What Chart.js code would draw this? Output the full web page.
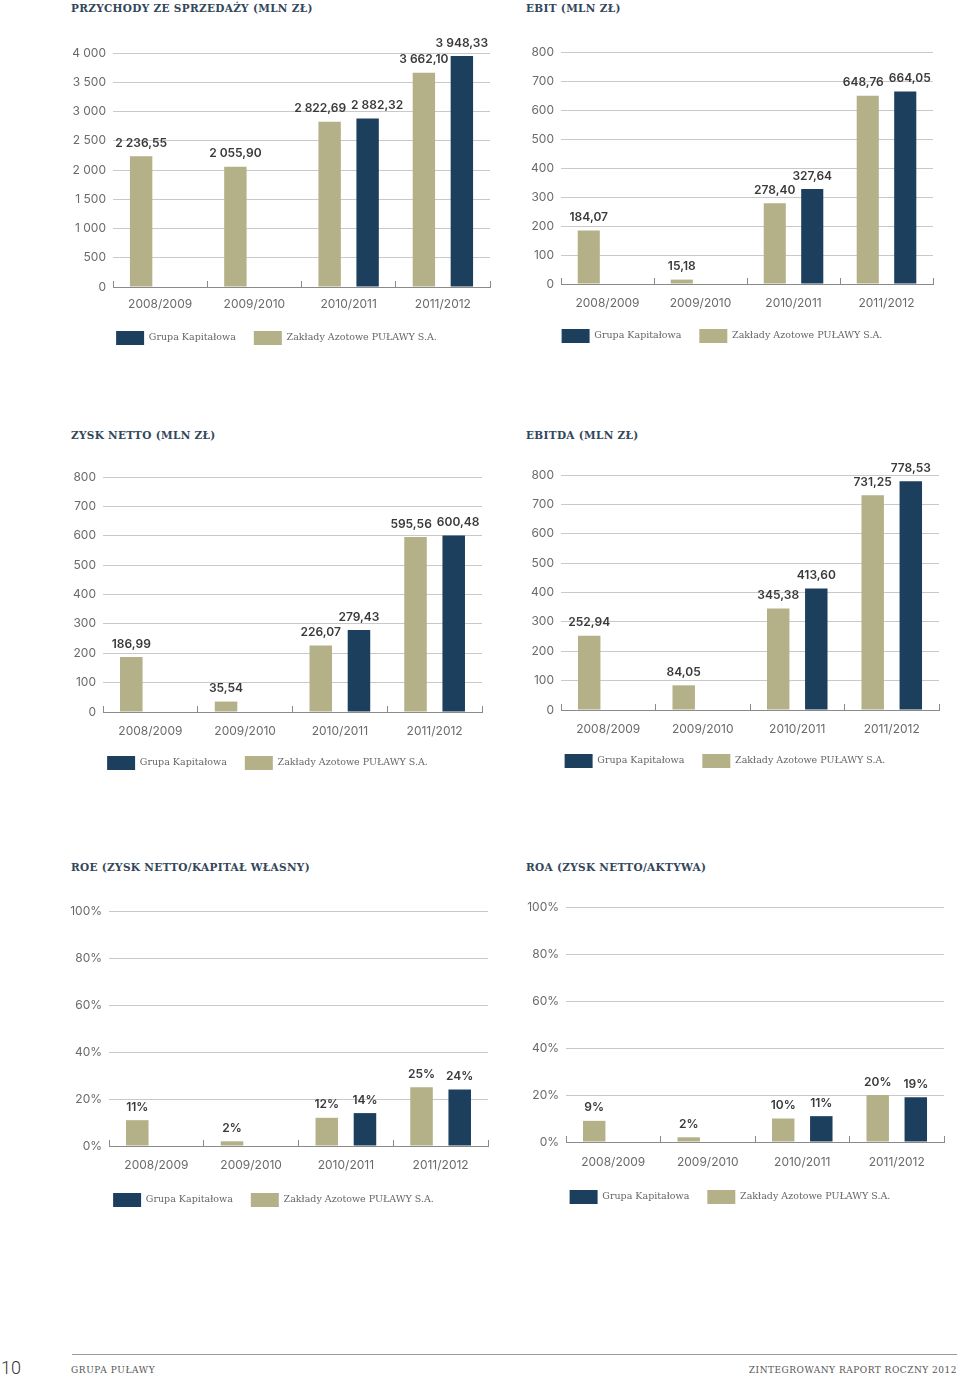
<!DOCTYPE html>
<html><head><meta charset="utf-8">
<script src="https://cdn.jsdelivr.net/npm/chart.js@4.4.1/dist/chart.umd.min.js"></script>
<style>
html,body{margin:0;padding:0;background:#fff;}
body{width:960px;height:1377px;position:relative;overflow:hidden;}
.t{position:absolute;font:bold 10.5px "DejaVu Serif";letter-spacing:0.32px;color:#33475b;white-space:nowrap;line-height:12px;}
canvas{position:absolute;}
.f{position:absolute;white-space:nowrap;}
</style></head><body>
<div class="f" style="left:72px;top:1354px;width:885px;height:1px;background:#9a9a9a"></div>
<div class="f" style="left:1px;top:1358px;font:300 18px Roboto;color:#333;line-height:20px">10</div>
<div class="f" style="left:71px;top:1364px;font:9px 'DejaVu Serif';letter-spacing:0.6px;color:#555;line-height:12px">GRUPA PUŁAWY</div>
<div class="f" style="right:3px;top:1364px;font:9px 'DejaVu Serif';letter-spacing:0.5px;color:#555;line-height:12px">ZINTEGROWANY RAPORT ROCZNY 2012</div>
<script>
// ---- data ----
const categories = ['2008/2009', '2009/2010', '2010/2011', '2011/2012'];
const seriesNames = ['Zakłady Azotowe PUŁAWY S.A.', 'Grupa Kapitałowa'];

const przychodyZaklady = [2236.55, 2055.90, 2822.69, 3662.10];
const przychodyGrupa   = [null, null, 2882.32, 3948.33];

const ebitZaklady = [184.07, 15.18, 278.40, 648.76];
const ebitGrupa   = [null, null, 327.64, 664.05];

const zyskZaklady = [186.99, 35.54, 226.07, 595.56];
const zyskGrupa   = [null, null, 279.43, 600.48];

const ebitdaZaklady = [252.94, 84.05, 345.38, 731.25];
const ebitdaGrupa   = [null, null, 413.60, 778.53];

const roeZaklady = [11, 2, 12, 25];
const roeGrupa   = [null, null, 14, 24];

const roaZaklady = [9, 2, 10, 20];
const roaGrupa   = [null, null, 11, 19];

const titles = ['PRZYCHODY ZE SPRZEDAŻY (MLN ZŁ)', 'EBIT (MLN ZŁ)', 'ZYSK NETTO (MLN ZŁ)',
                'EBITDA (MLN ZŁ)', 'ROE (ZYSK NETTO/KAPITAŁ WŁASNY)', 'ROA (ZYSK NETTO/AKTYWA)'];

// ---- styles / layout ----
const TAN = '#b4b188', NAVY = '#1d3f5e';
Chart.defaults.font.family = 'Inter';

function fmtPL(v, d) {
  const s = v.toFixed(d);
  const parts = s.split('.');
  const ip = parts[0].replace(/\B(?=(\d{3})+(?!\d))/g, ' ');
  return parts[1] ? ip + ',' + parts[1] : ip;
}

const valueLabels = {
  id: 'valueLabels',
  afterDatasetsDraw(chart, args, o) {
    const ctx = chart.ctx;
    ctx.save();
    ctx.font = '600 12px Inter';
    ctx.fillStyle = '#3a3a3a';
    ctx.textAlign = 'center';
    ctx.textBaseline = 'middle';
    const n = chart.data.labels.length;
    for (let i = 0; i < n; i++) {
      const items = [];
      chart.data.datasets.forEach((ds, di) => {
        const v = ds.data[i];
        if (v == null) return;
        const el = chart.getDatasetMeta(di).data[i];
        const txt = o.pct ? v + '%' : fmtPL(v, 2);
        items.push({x: el.x, y: el.y - 13, w: ctx.measureText(txt).width, txt});
      });
      if (items.length === 2) {
        const a = items[0], b = items[1];
        const ov = (a.x + a.w / 2 + 5) - (b.x - b.w / 2);
        if (ov > 0 && Math.abs(a.y - b.y) < 13) { a.x -= ov / 2; b.x += ov / 2; }
      }
      items.forEach(it => ctx.fillText(it.txt, it.x, it.y));
    }
    ctx.restore();
  }
};

function makeChart(g, title, tan, navy, yMax, yStep, pct) {
  const AW = 50, PT = 20, PR = 10, LP = 18;
  const XH = g.leg - g.plotB - (LP + 7);
  const left = g.plotL - AW, top = g.plotT - PT;
  const width = g.plotR - g.plotL + AW + PR;
  const height = (g.plotB - top) + XH + (LP * 2 + 14) + 1 - 8;
  const cv = document.createElement('canvas');
  cv.width = width; cv.height = height;
  cv.style.left = left + 'px'; cv.style.top = top + 'px';
  cv.style.width = width + 'px'; cv.style.height = height + 'px';
  document.body.appendChild(cv);
  const t = document.createElement('div');
  t.className = 't'; t.textContent = title;
  t.style.left = g.titleX + 'px'; t.style.top = (g.titleY - 6) + 'px';
  document.body.appendChild(t);
  const barOpts = {categoryPercentage: 0.806, barPercentage: 0.59};
  new Chart(cv, {
    type: 'bar',
    data: {
      labels: categories,
      datasets: [
        Object.assign({label: seriesNames[0], data: tan, backgroundColor: TAN}, barOpts),
        Object.assign({label: seriesNames[1], data: navy, backgroundColor: NAVY}, barOpts)
      ]
    },
    options: {
      responsive: false, animation: false, devicePixelRatio: 1,
      layout: {padding: {top: PT, right: PR, left: 0, bottom: 0}},
      plugins: {
        legend: {position: 'bottom', reverse: true,
          labels: {boxWidth: 28, boxHeight: 14, padding: LP, color: '#666',
                   font: {family: 'DejaVu Serif', size: 9.5}}},
        tooltip: {enabled: false},
        valueLabels: {pct: pct}
      },
      scales: {
        x: {
          grid: {display: true, drawOnChartArea: false, drawTicks: true, tickLength: -6, color: '#8a8a8a', offset: true},
          border: {display: true, color: '#8a8a8a', width: 1},
          ticks: {color: '#6a6a6a', font: {size: 12}, padding: g.xLab - g.plotB - 1},
          afterFit(s) { s.height = XH; }
        },
        y: {
          min: 0, max: yMax,
          ticks: {stepSize: yStep, color: '#6a6a6a', font: {size: 12}, padding: 7,
                  callback: v => pct ? v + '%' : fmtPL(v, 0)},
          grid: {color: c => (c.tick && c.tick.value === 0) ? 'rgba(0,0,0,0)' : '#c9c9c9', drawTicks: false},
          border: {display: false},
          afterFit(s) { s.width = AW; }
        }
      }
    },
    plugins: [valueLabels]
  });
}

const L = [
  {plotL:113, plotR:490, plotT:53,  plotB:286,  xLab:303,  leg:337,  titleX:71,  titleY:8},
  {plotL:561, plotR:933, plotT:52,  plotB:283,  xLab:302,  leg:335,  titleX:526, titleY:8},
  {plotL:103, plotR:482, plotT:477, plotB:711,  xLab:730,  leg:762,  titleX:71,  titleY:435},
  {plotL:561, plotR:939, plotT:475, plotB:709,  xLab:728,  leg:760,  titleX:526, titleY:435},
  {plotL:109, plotR:488, plotT:911, plotB:1145, xLab:1164, leg:1199, titleX:71,  titleY:867},
  {plotL:566, plotR:944, plotT:907, plotB:1141, xLab:1161, leg:1196, titleX:526, titleY:867}
];

makeChart(L[0], titles[0], przychodyZaklady, przychodyGrupa, 4000, 500, false);
makeChart(L[1], titles[1], ebitZaklady, ebitGrupa, 800, 100, false);
makeChart(L[2], titles[2], zyskZaklady, zyskGrupa, 800, 100, false);
makeChart(L[3], titles[3], ebitdaZaklady, ebitdaGrupa, 800, 100, false);
makeChart(L[4], titles[4], roeZaklady, roeGrupa, 100, 20, true);
makeChart(L[5], titles[5], roaZaklady, roaGrupa, 100, 20, true);
</script>
</body></html>
